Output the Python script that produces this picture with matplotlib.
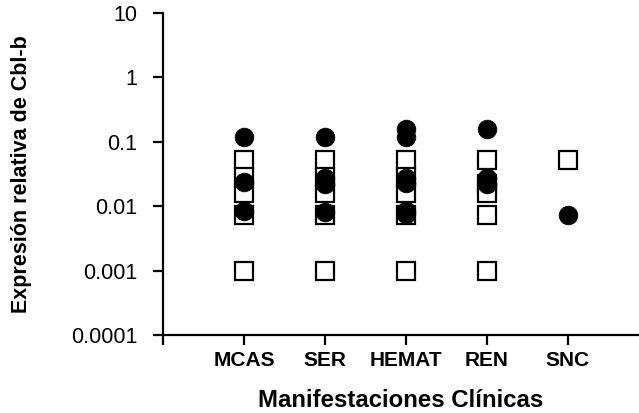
import matplotlib
matplotlib.use("Agg")
import matplotlib.pyplot as plt
from matplotlib.ticker import NullLocator, FixedLocator, FixedFormatter

categories = ["MCAS", "SER", "HEMAT", "REN", "SNC"]

# open squares (group 1)
sq_cat = ["MCAS", "MCAS", "MCAS", "MCAS", "MCAS",
          "SER", "SER", "SER", "SER", "SER",
          "HEMAT", "HEMAT", "HEMAT", "HEMAT", "HEMAT",
          "REN", "REN", "REN", "REN", "REN",
          "SNC"]
sq_val = [0.052, 0.028, 0.016, 0.0074, 0.001,
          0.052, 0.028, 0.016, 0.0074, 0.001,
          0.052, 0.028, 0.016, 0.0074, 0.001,
          0.052, 0.022, 0.016, 0.0072, 0.001,
          0.052]

# filled circles (group 2)
ci_cat = ["MCAS", "MCAS", "MCAS",
          "SER", "SER", "SER", "SER",
          "HEMAT", "HEMAT", "HEMAT", "HEMAT", "HEMAT", "HEMAT",
          "REN", "REN", "REN",
          "SNC"]
ci_val = [0.12, 0.024, 0.0085,
          0.12, 0.027, 0.022, 0.0082,
          0.16, 0.12, 0.027, 0.023, 0.0085, 0.0075,
          0.16, 0.027, 0.022,
          0.0073]

yticks = [0.0001, 0.001, 0.01, 0.1, 1, 10]
ytick_labels = ["0.0001", "0.001", "0.01", "0.1", "1", "10"]

plt.rcParams['font.family'] = ['Liberation Sans', 'DejaVu Sans']

fig = plt.figure(figsize=(6.39, 4.13), dpi=100)
ax = fig.add_axes([163/639, 78/413, 1 - 163/639, (335 - 13)/413])

pos = {c: i + 1 for i, c in enumerate(categories)}
ax.plot([pos[c] for c in sq_cat], sq_val, linestyle='none', marker='s',
        markersize=12.5, markerfacecolor='white', markeredgecolor='black',
        markeredgewidth=1.6, zorder=3, clip_on=False)
ax.plot([pos[c] for c in ci_cat], ci_val, linestyle='none', marker='o',
        markersize=13.5, markerfacecolor='black', markeredgecolor='black',
        markeredgewidth=0.5, zorder=4, clip_on=False)

ax.set_yscale('log')
ax.set_ylim(1e-4, 10)
ax.set_xlim(0, 5.88)
ax.yaxis.set_major_locator(FixedLocator(yticks))
ax.yaxis.set_major_formatter(FixedFormatter(ytick_labels))
ax.yaxis.set_minor_locator(NullLocator())
ax.set_xticks(range(0, len(categories) + 1))
ax.set_xticklabels([""] + categories, fontweight='bold', fontsize=15)
ax.xaxis.set_minor_locator(NullLocator())

for s in ['top', 'right']:
    ax.spines[s].set_visible(False)
for s in ['left', 'bottom']:
    ax.spines[s].set_linewidth(1.6)

ax.tick_params(axis='both', direction='out', length=7.5, width=1.6, color='black')
ax.tick_params(axis='y', labelsize=15.5, pad=11)
ax.tick_params(axis='x', pad=4)

ax.set_xlabel("Manifestaciones Clínicas", fontsize=17.3, fontweight='bold', labelpad=14)
ax.set_ylabel("Expresión relativa de Cbl-b", fontsize=15.5, fontweight='bold', labelpad=28)

fig.savefig("out.png", dpi=100)
